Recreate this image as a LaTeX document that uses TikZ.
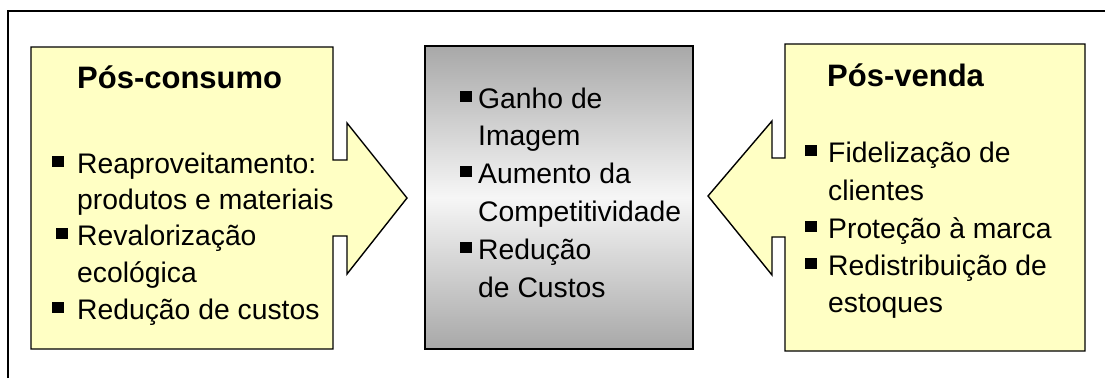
\documentclass[tikz,border=0pt]{standalone}
\usepackage{fontspec}
\setmainfont{Liberation Sans}
\definecolor{callyellow}{HTML}{FFFFC4}
\definecolor{boxgray}{HTML}{A8A8A8}
\definecolor{boxwhite}{HTML}{F6F6F6}
\begin{document}
\begin{tikzpicture}[x=1pt,y=-1pt,
  callout/.style={draw=black,line width=1.4pt,fill=callyellow,line join=miter},
  frame/.style={draw=black,line width=1.5pt},
  titletext/.style={anchor=base west,inner sep=0pt,font=\fontsize{31}{36}\selectfont\bfseries},
  itemtext/.style={anchor=base west,inner sep=0pt,font=\fontsize{28.3}{33}\selectfont},
  bulletbox/.style={fill=black,inner sep=0pt,minimum width=12pt,minimum height=11pt}]
\useasboundingbox (0,0) rectangle (1105,378);
\fill[white] (0,0) rectangle (1105,378);
% outer frame (top and left edges)
\draw[frame] (8,378) -- (8,11) -- (1105,11);
% left callout (Pos-consumo)
\path[callout] (31,47) -- (333,47) -- (333,160) -- (347,160) -- (347,123) -- (407,198)
  -- (347,274) -- (347,236) -- (333,236) -- (333,349) -- (31,349) -- cycle;
% right callout (Pos-venda)
\path[callout] (785,44) -- (1085,44) -- (1085,351) -- (785,351) -- (785,237) -- (772,237)
  -- (772,275) -- (708,196) -- (772,121) -- (772,158) -- (785,158) -- cycle;
% center box
\shade[top color=boxgray,bottom color=boxgray,middle color=boxwhite] (425,46) rectangle (693,349);
\draw[line width=1.4pt] (425,46) rectangle (693,349);
% left texts
\node[titletext] (lt) at (77,88) {Pós-consumo};
\node[bulletbox] (lb1) at (58,161) {};
\node[itemtext] (l1) at (77,173) {Reaproveitamento:};
\node[itemtext] (l2) at (77,209) {produtos e materiais};
\node[bulletbox] (lb2) at (62,233) {};
\node[itemtext] (l3) at (77,245) {Revalorização};
\node[itemtext] (l4) at (77,282) {ecológica};
\node[bulletbox] (lb3) at (58,307) {};
\node[itemtext] (l5) at (77,319) {Redução de custos};
% center texts
\node[bulletbox] (cb1) at (466,96) {};
\node[itemtext] (c1) at (478,108) {Ganho de};
\node[itemtext] (c2) at (478,145) {Imagem};
\node[bulletbox] (cb2) at (466,171) {};
\node[itemtext] (c3) at (478,183) {Aumento da};
\node[itemtext] (c4) at (478,221) {Competitividade};
\node[bulletbox] (cb3) at (466,247) {};
\node[itemtext] (c5) at (478,259) {Redução};
\node[itemtext] (c6) at (478,297) {de Custos};
% right texts
\node[titletext] (rt) at (827,86) {Pós-venda};
\node[bulletbox] (rb1) at (811,150) {};
\node[itemtext] (r1) at (828,162) {Fidelização de};
\node[itemtext] (r2) at (828,200) {clientes};
\node[bulletbox] (rb2) at (811,226) {};
\node[itemtext] (r3) at (828,238) {Proteção à marca};
\node[bulletbox] (rb3) at (811,263) {};
\node[itemtext] (r4) at (828,275) {Redistribuição de};
\node[itemtext] (r5) at (828,312) {estoques};
\end{tikzpicture}
\end{document}
